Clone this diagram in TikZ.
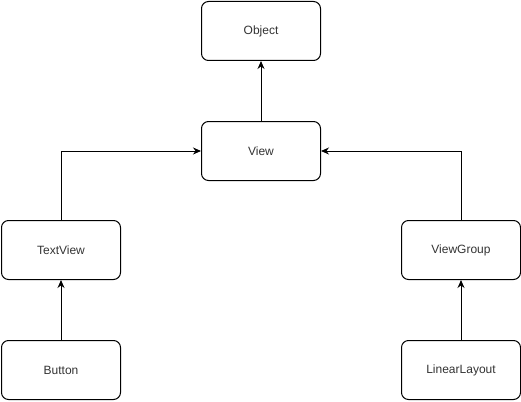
\documentclass[tikz,border=0pt]{standalone}
\usepackage{fontspec}
\setmainfont{Liberation Sans}
\usetikzlibrary{arrows.meta,positioning}
\definecolor{boxtext}{RGB}{51,51,51}

\begin{document}
\begin{tikzpicture}[x=1pt, y=1pt, node distance=60pt and 80pt,
    every node/.style={font=\fontsize{12}{14}\selectfont},
    cls/.style={draw, line width=1pt, rounded corners=7pt, minimum width=119pt,
      minimum height=59pt, text=boxtext, inner sep=0pt},
    inherit/.style={-{Stealth[length=8pt, width=7pt]}, line width=1pt}]
        \useasboundingbox (0,0) rectangle (521,-401);
        % Classes
        \node[cls] (view) at (261,-151) {View};
        \node[cls, above=of view] (object) {Object};
        \node[cls] (textview) at (61,-250) {TextView};
        \node[cls] (viewgroup) at (461,-250) {ViewGroup};
        \node[cls, below=of textview] (button) {Button};
        \node[cls, below=of viewgroup] (linearlayout) {LinearLayout};

        % Inheritance arrows
        \draw[inherit] (view) -- (object);
        \draw[inherit] (textview.north) |- (view.west);
        \draw[inherit] (viewgroup.north) |- (view.east);
        \draw[inherit] (button) -- (textview);
        \draw[inherit] (linearlayout) -- (viewgroup);
      \end{tikzpicture}
\end{document}
